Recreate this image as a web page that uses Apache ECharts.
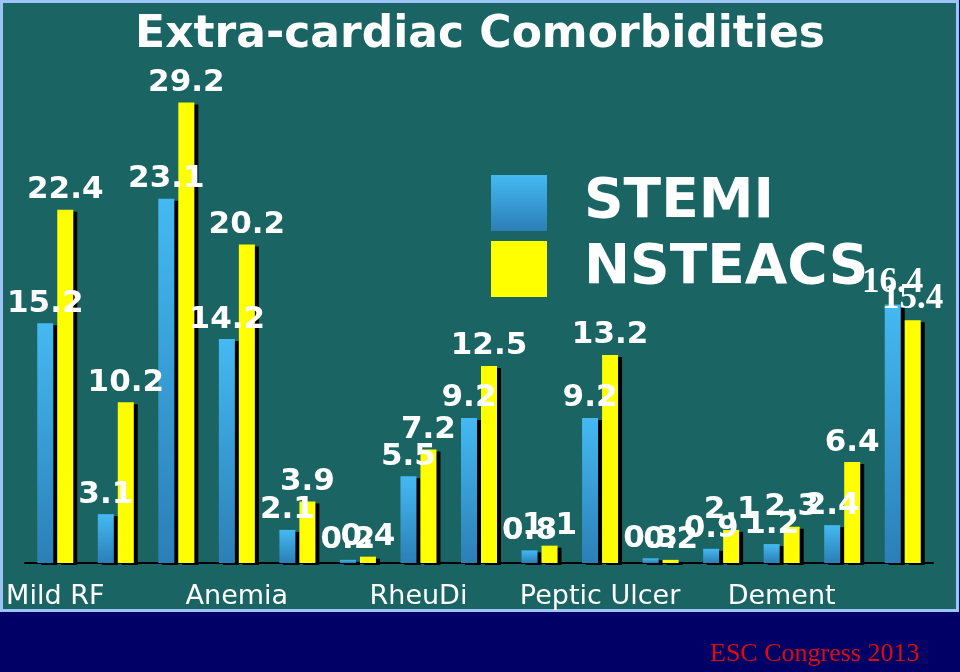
<!DOCTYPE html>
<html>
<head>
<meta charset="utf-8">
<script src="https://cdn.jsdelivr.net/npm/echarts@6/dist/echarts.min.js"></script>
<style>
html,body{margin:0;padding:0;background:#000066;}
#chart{width:960px;height:672px;}
</style>
</head>
<body>
<div id="chart"></div>
<script>
const categories = ['Mild RF','Mod/Sev RF','Diabetes','Anemia','Cancer','Dialysis','RheuDi','COPD','Liver Dis','Peptic Ulcer','HIV','Stroke','Dement','PVD','Smoker'];
const stemi   = [15.2, 3.1, 23.1, 14.2, 2.1, 0.2, 5.5, 9.2, 0.8, 9.2, 0.3, 0.9, 1.2, 2.4, 16.4];
const nsteacs = [22.4, 10.2, 29.2, 20.2, 3.9, 0.4, 7.2, 12.5, 1.1, 13.2, 0.2, 2.1, 2.3, 6.4, 15.4];
const seriesNames = ['STEMI','NSTEACS'];
const titleText = 'Extra-cardiac Comorbidities';
const footerText = 'ESC Congress 2013';

const chart = echarts.init(document.getElementById('chart'));
const labelFont = {color:'#ffffff', fontSize:31, fontWeight:'bold', fontFamily:'DejaVu Sans'};
function mkData(arr){
  return arr.map((v,i)=> i === arr.length-1
    ? {value:v, label:{fontFamily:'Liberation Serif', fontSize:35}}
    : v);
}
const shadow = {shadowColor:'#000000', shadowBlur:0, shadowOffsetX:4, shadowOffsetY:2};
chart.setOption({
  backgroundColor:'#000066',
  animation:false,
  graphic:[
    {type:'rect', z:-10, shape:{x:1.5, y:1.5, width:956, height:609},
     style:{fill:'#1a6464', stroke:'#9cc4f4', lineWidth:3}},
    {type:'text', left:710, top:641,
     style:{text:footerText, fill:'#e00a0a', font:'26px "Liberation Serif"'}}
  ],
  title:{text:titleText, left:'center', top:9,
    textStyle:{color:'#ffffff', fontSize:44, fontWeight:'bold', fontFamily:'DejaVu Sans'}},
  legend:{data:seriesNames, orient:'vertical', left:486, top:170, itemWidth:56, itemHeight:56, itemGap:10,
    icon:'rect', itemStyle:{shadowOffsetX:0, shadowOffsetY:0, shadowColor:'rgba(0,0,0,0)'},
    textStyle:{color:'#ffffff', fontSize:55, fontWeight:'bold', fontFamily:'DejaVu Sans', padding:[0,0,0,32]}},
  grid:{left:25, right:27, top:90, bottom:109},
  xAxis:{type:'category', data:categories,
    axisLine:{lineStyle:{color:'#000000', width:2}},
    axisTick:{show:false},
    axisLabel:{interval:2, color:'#ffffff', fontSize:27, fontFamily:'DejaVu Sans', margin:20}},
  yAxis:{type:'value', min:0, max:30, show:false, splitLine:{show:false}},
  series:[
    {name:seriesNames[0], type:'bar', data:mkData(stemi), barWidth:16, barGap:'25%',
     itemStyle:Object.assign({color:new echarts.graphic.LinearGradient(0,0,0,1,[{offset:0,color:'#45b9f2'},{offset:1,color:'#2b7fb6'}])}, shadow),
     label:Object.assign({show:true, position:'top', distance:4}, labelFont)},
    {name:seriesNames[1], type:'bar', data:mkData(nsteacs), barWidth:16,
     itemStyle:Object.assign({color:'#ffff00'}, shadow),
     label:Object.assign({show:true, position:'top', distance:4}, labelFont)}
  ]
});
</script>
</body>
</html>
